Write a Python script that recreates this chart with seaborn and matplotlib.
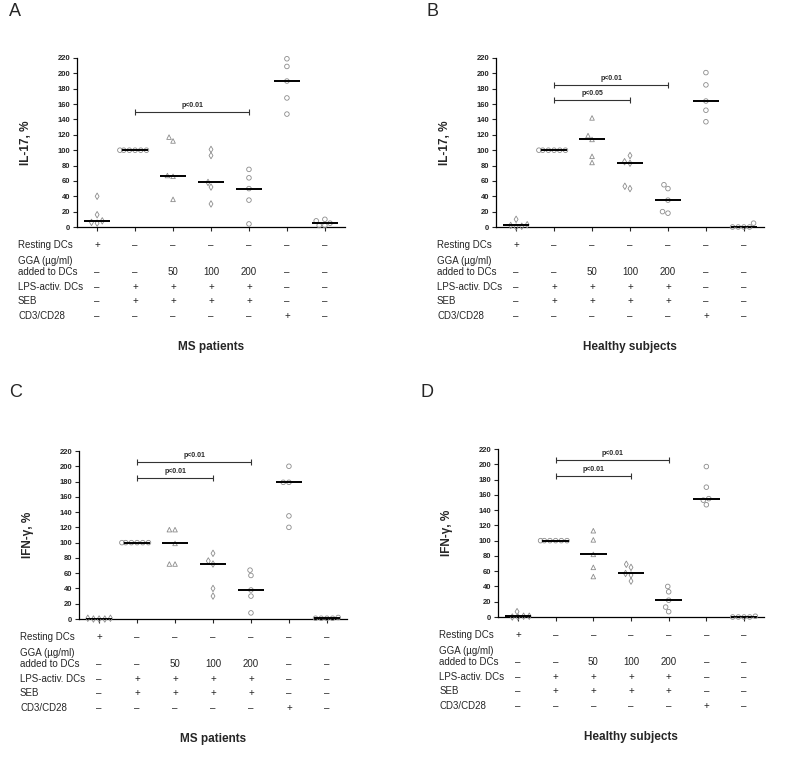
import pandas as pd
import matplotlib
matplotlib.use('Agg')
import matplotlib.pyplot as plt
import matplotlib.transforms as mtransforms
import seaborn as sns

sns.set_style('white')
plt.rcParams['font.family'] = ['Liberation Sans', 'DejaVu Sans']

# conditions (one column of the table each)
conds = ['rest', 'lps_seb', 'gga50', 'gga100', 'gga200', 'cd3cd28', 'none']
cond_markers = ['d', 'o', '^', 'd', 'o', 'o', 'o']

# A: IL-17, MS patients
il17_ms = [
    [40, 16, 8, 5, 6],
    [100, 100, 100, 100, 100, 100],
    [117, 112, 67, 66, 36],
    [101, 93, 58, 52, 30],
    [75, 64, 50, 35, 4],
    [219, 209, 190, 168, 147],
    [10, 8, 5, 2, 2],
]
# B: IL-17, healthy subjects
il17_hs = [
    [10, 3, 2, 1, 0],
    [100, 100, 100, 100, 100, 100],
    [142, 119, 114, 92, 84],
    [93, 85, 83, 53, 50],
    [55, 50, 35, 20, 18],
    [201, 185, 164, 152, 137],
    [5, 0, 0, 0, 0],
]
# C: IFN-gamma, MS patients
ifn_ms = [
    [1, 1, 0, 0, 0],
    [100, 100, 100, 100, 100, 100],
    [117, 117, 99, 72, 72],
    [86, 76, 72, 40, 30],
    [64, 57, 38, 30, 8],
    [200, 179, 179, 135, 120],
    [2, 1, 1, 1, 1],
]
# D: IFN-gamma, healthy subjects
ifn_hs = [
    [7, 1, 1, 0, 0],
    [100, 100, 100, 100, 100, 100],
    [113, 101, 82, 65, 53],
    [69, 65, 57, 55, 47],
    [40, 33, 22, 13, 7],
    [197, 170, 155, 153, 147],
    [1, 0, 0, 0, 0],
]

# significance brackets: (from column, to column, height, label)
brackets_a = [(1, 4, 150, 'p<0.01')]
brackets_b = [(1, 4, 185, 'p<0.01'), (1, 3, 165, 'p<0.05')]
brackets_c = [(1, 4, 205, 'p<0.01'), (1, 3, 185, 'p<0.01')]
brackets_d = [(1, 4, 205, 'p<0.01'), (1, 3, 185, 'p<0.01')]

# table under each panel
row_names = ['Resting DCs', 'GGA (µg/ml)', 'LPS-activ. DCs', 'SEB', 'CD3/CD28']
row_rest = ['+', '–', '–', '–', '–', '–', '–']
row_gga = ['–', '–', '50', '100', '200', '–', '–']
row_lps = ['–', '+', '+', '+', '+', '–', '–']
row_seb = ['–', '+', '+', '+', '+', '–', '–']
row_cd3 = ['–', '–', '–', '–', '–', '+', '–']

W, H = 792, 762
fig = plt.figure(figsize=(W / 100, H / 100), dpi=100)


def draw_panel(rect, values, brackets, ylabel, group, letter, letter_xy):
    ax = fig.add_axes([rect[0] / W, 1 - rect[3] / H,
                       (rect[2] - rect[0]) / W, (rect[3] - rect[1]) / H])
    rows = []
    for c, m, vals in zip(conds, cond_markers, values):
        for v in vals:
            rows.append({'cond': c, 'value': v, 'marker': m})
    df = pd.DataFrame(rows)

    for m in ['o', 'd', '^']:
        sub = df[df['marker'] == m]
        sns.swarmplot(data=sub, x='cond', y='value', order=conds, marker=m,
                      size=3.3, ax=ax, zorder=3)
    # hollow grey markers; drop empty collections
    for coll in list(ax.collections):
        if len(coll.get_offsets()) == 0:
            coll.remove()
            continue
        coll.set_facecolor('none')
        coll.set_edgecolor('#8c8c8c')
        coll.set_linewidth(0.6)
        coll.set_clip_on(False)

    sns.boxplot(data=df, x='cond', y='value', order=conds, width=0.7,
                whis=0, showfliers=False, showcaps=False,
                boxprops={'visible': False},
                whiskerprops={'visible': False},
                medianprops={'color': 'black', 'linewidth': 1.4, 'zorder': 4},
                ax=ax)

    for x0, x1, y, label in brackets:
        ax.plot([x0, x1], [y, y], color='#333333', lw=0.8)
        ax.plot([x0, x1], [y, y], ls='none', marker='|', ms=4,
                mew=0.8, color='#333333')
        ax.text((x0 + x1) / 2, y + 4, label, ha='center', va='bottom',
                fontsize=5, fontweight='bold')

    ax.set_xlim(-0.53, 6.53)
    ax.set_ylim(0, 220)
    ax.set_yticks(range(0, 221, 20))
    ax.set_xticks(range(len(conds)))
    ax.set_xticklabels([])
    ax.set_xlabel('')
    ax.tick_params(axis='y', labelsize=5.5, length=3, width=0.8,
                   direction='out', left=True, pad=2)
    ax.tick_params(axis='x', length=3, width=0.8, direction='out',
                   bottom=True)
    for t in ax.get_yticklabels():
        t.set_fontweight('bold')
    for s in ['top', 'right']:
        ax.spines[s].set_visible(False)
    for s in ['left', 'bottom']:
        ax.spines[s].set_color('black')
        ax.spines[s].set_linewidth(0.9)
    ax.set_ylabel(ylabel, fontsize=8.5, fontweight='bold',
                  family=['Liberation Sans Narrow', 'Liberation Sans'])
    ax.yaxis.set_label_coords(-0.168, 0.5)

    # table of conditions
    hpx = rect[3] - rect[1]
    trans = mtransforms.blended_transform_factory(ax.transData, ax.transAxes)
    lab_x = -0.22
    offsets = [18, 45, 60, 74, 89]
    table = [row_rest, row_gga, row_lps, row_seb, row_cd3]
    for name, off, row in zip(row_names, offsets, table):
        y = -off / hpx
        ax.text(lab_x, y, name if name != 'GGA (µg/ml)' else 'added to DCs',
                transform=ax.transAxes, fontsize=7, va='center', ha='left',
                clip_on=False)
        for i, val in enumerate(row):
            ax.text(i, y, val, transform=trans, fontsize=7, ha='center',
                    va='center', clip_on=False)
    ax.text(lab_x, -34 / hpx, 'GGA (µg/ml)', transform=ax.transAxes,
            fontsize=7, va='center', ha='left')
    ax.text(3, -120 / hpx, group, transform=trans, fontsize=8.5,
            fontweight='bold', ha='center', va='center')

    fig.text(letter_xy[0] / W, 1 - letter_xy[1] / H, letter, fontsize=13,
             ha='left', va='top')
    return ax


draw_panel((77, 58, 345, 227), il17_ms, brackets_a, 'IL-17, %',
           'MS patients', 'A', (9, 3))
draw_panel((496, 58, 764, 227), il17_hs, brackets_b, 'IL-17, %',
           'Healthy subjects', 'B', (427, 3))
draw_panel((79, 451, 347, 619), ifn_ms, brackets_c, 'IFN-γ, %',
           'MS patients', 'C', (9, 384))
draw_panel((498, 449, 764, 617), ifn_hs, brackets_d, 'IFN-γ, %',
           'Healthy subjects', 'D', (420, 384))

fig.savefig('out.png', dpi=100, facecolor='white')
